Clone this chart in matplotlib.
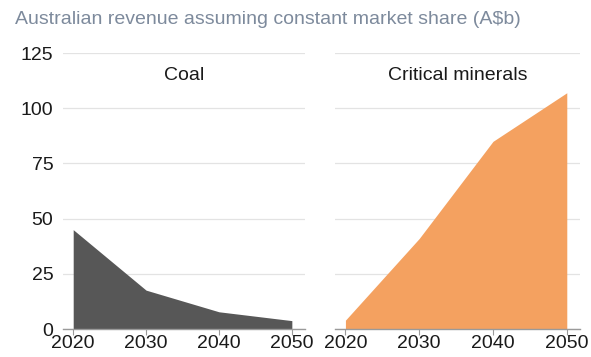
import numpy as np
import matplotlib
matplotlib.use("Agg")
import matplotlib.pyplot as plt

plt.rcParams["font.family"] = ["Liberation Sans", "DejaVu Sans"]

years = [2020, 2030, 2040, 2050]
coal = [45, 17.6, 7.8, 3.8]
minerals = [4, 41, 85, 107]
panel_titles = ["Coal", "Critical minerals"]
y_ticks = [0, 25, 50, 75, 100, 125]
title = "Australian revenue assuming constant market share (A$b)"

fig = plt.figure(figsize=(5.91, 3.57), dpi=100)
ax1 = fig.add_axes([0.1066, 0.0784, 0.4094, 0.7731])
ax2 = fig.add_axes([0.567, 0.0784, 0.4145, 0.7731])

for ax, vals, col, name in [(ax1, coal, "#575757", panel_titles[0]),
                            (ax2, minerals, "#F4A160", panel_titles[1])]:
    ax.fill_between(years, 0, vals, color=col, lw=0, zorder=2)
    ax.set_xlim(2018.6, 2051.8)
    ax.set_ylim(0, 125)
    ax.set_yticks(y_ticks)
    ax.set_xticks(years)
    ax.grid(axis="y", color="#e3e3e3", lw=0.9, zorder=0)
    for s in ["top", "right", "left"]:
        ax.spines[s].set_visible(False)
    ax.spines["bottom"].set_color("#9a9a9a")
    ax.spines["bottom"].set_linewidth(1.0)
    ax.spines["bottom"].set_zorder(3)
    ax.tick_params(axis="x", length=4, color="#9a9a9a", labelsize=14, pad=0)
    ax.tick_params(axis="y", length=0, labelsize=14, pad=7)
    ax.text(0.5, 0.92, name, transform=ax.transAxes, ha="center",
            va="center", fontsize=14, color="#1a1a1a")

ax2.tick_params(axis="y", labelleft=False)
for ax in (ax1, ax2):
    for lab in ax.get_yticklabels() + ax.get_xticklabels():
        lab.set_color("#1a1a1a")

fig.text(0.025, 0.944, title, fontsize=14, color="#7d8a9c", ha="left",
         va="center")

fig.savefig("out.png", dpi=100)
